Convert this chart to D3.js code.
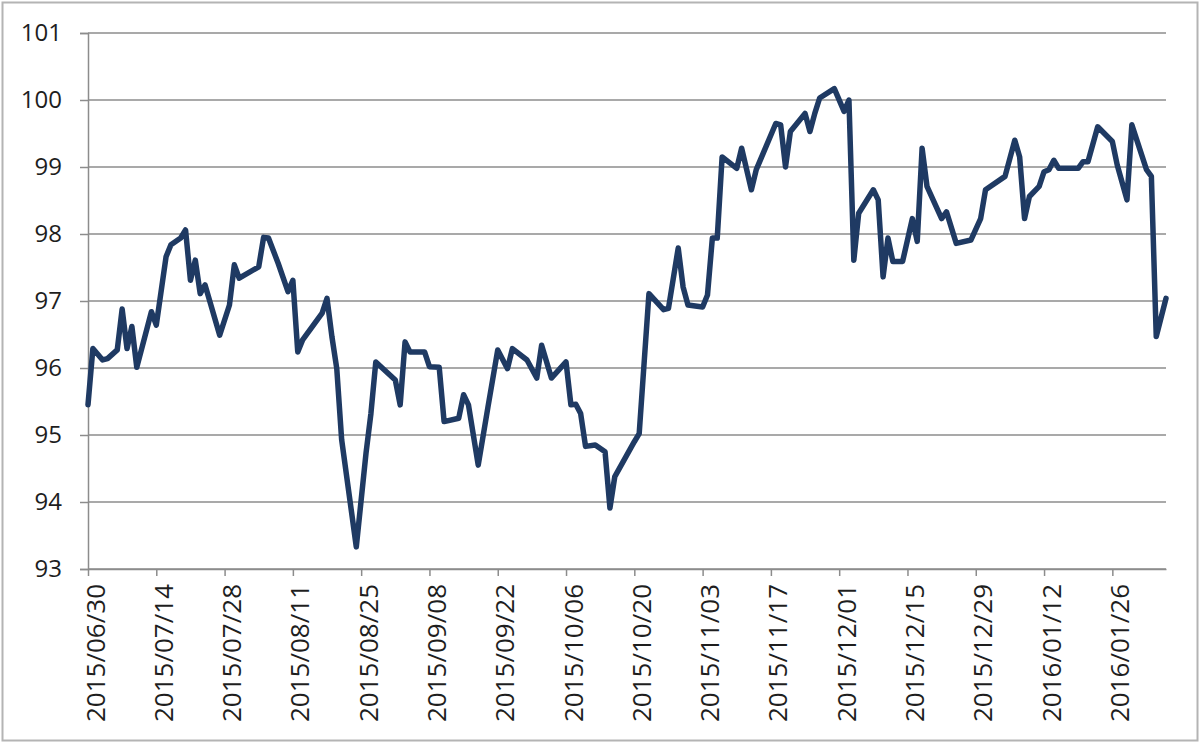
<!DOCTYPE html>
<html>
<head>
<meta charset="utf-8">
<script src="https://cdn.jsdelivr.net/npm/d3@7"></script>
<style>
  body { margin: 0; background: #fff; }
  text { font-family: "Open Sans", sans-serif; fill: #1e1e1e; }
</style>
</head>
<body>
<div id="my_dataviz"></div>
<script>
// data
var dates = ["2015/06/30","2015/07/01","2015/07/03","2015/07/04","2015/07/06","2015/07/07","2015/07/08","2015/07/09","2015/07/10","2015/07/13",
  "2015/07/14","2015/07/16","2015/07/17","2015/07/19","2015/07/20","2015/07/21","2015/07/22","2015/07/23","2015/07/24","2015/07/27",
  "2015/07/29","2015/07/30","2015/07/31","2015/08/04","2015/08/05","2015/08/06","2015/08/08","2015/08/10","2015/08/11","2015/08/12",
  "2015/08/13","2015/08/17","2015/08/18","2015/08/19","2015/08/20","2015/08/21","2015/08/24","2015/08/26","2015/08/27","2015/08/28",
  "2015/09/01","2015/09/02","2015/09/03","2015/09/04","2015/09/07","2015/09/08","2015/09/10","2015/09/11","2015/09/14","2015/09/15",
  "2015/09/16","2015/09/18","2015/09/20","2015/09/22","2015/09/24","2015/09/25","2015/09/28","2015/09/30","2015/10/01","2015/10/03",
  "2015/10/06","2015/10/07","2015/10/08","2015/10/09","2015/10/10","2015/10/12","2015/10/14","2015/10/15","2015/10/16","2015/10/20",
  "2015/10/21","2015/10/23","2015/10/26","2015/10/27","2015/10/29","2015/10/30","2015/10/31","2015/11/03","2015/11/04","2015/11/05",
  "2015/11/06","2015/11/07","2015/11/10","2015/11/11","2015/11/13","2015/11/14","2015/11/18","2015/11/19","2015/11/20","2015/11/21",
  "2015/11/24","2015/11/25","2015/11/26","2015/11/27","2015/11/30","2015/12/02","2015/12/03","2015/12/04","2015/12/05","2015/12/08",
  "2015/12/09","2015/12/10","2015/12/11","2015/12/12","2015/12/14","2015/12/16","2015/12/17","2015/12/18","2015/12/19","2015/12/22",
  "2015/12/23","2015/12/25","2015/12/28","2015/12/30","2015/12/31","2016/01/04","2016/01/06","2016/01/07","2016/01/08","2016/01/09",
  "2016/01/11","2016/01/12","2016/01/13","2016/01/14","2016/01/15","2016/01/19","2016/01/20","2016/01/21","2016/01/23","2016/01/26",
  "2016/01/27","2016/01/29","2016/01/30","2016/02/02","2016/02/03","2016/02/04","2016/02/06"];

var values = [95.45,96.29,96.12,96.14,96.27,96.88,96.29,96.62,96.01,96.84,
  96.64,97.66,97.84,97.94,98.06,97.31,97.61,97.11,97.24,96.49,
  96.94,97.54,97.34,97.51,97.95,97.94,97.56,97.14,97.31,96.24,
  96.42,96.82,97.04,96.47,95.99,94.93,93.33,94.73,95.32,96.09,
  95.82,95.45,96.39,96.24,96.24,96.02,96.01,95.20,95.25,95.60,
  95.45,94.55,95.42,96.27,95.99,96.29,96.12,95.85,96.34,95.85,
  96.09,95.45,95.46,95.32,94.83,94.85,94.75,93.91,94.38,94.90,
  95.02,97.11,96.87,96.89,97.79,97.21,96.94,96.91,97.09,97.94,
  97.94,99.15,98.98,99.28,98.66,98.96,99.65,99.63,99.00,99.53,
  99.80,99.53,99.80,100.03,100.17,99.83,100.00,97.61,98.31,98.66,
  98.51,97.36,97.94,97.59,97.59,98.23,97.89,99.28,98.71,98.23,
  98.33,97.86,97.91,98.23,98.66,98.86,99.40,99.15,98.23,98.56,
  98.71,98.93,98.96,99.10,98.98,98.98,99.08,99.08,99.60,99.38,
  99.03,98.51,99.63,98.96,98.86,96.47,97.04];

var yTicks = [93, 94, 95, 96, 97, 98, 99, 100, 101];
var xTickLabels = ["2015/06/30","2015/07/14","2015/07/28","2015/08/11","2015/08/25","2015/09/08","2015/09/22",
  "2015/10/06","2015/10/20","2015/11/03","2015/11/17","2015/12/01","2015/12/15","2015/12/29","2016/01/12","2016/01/26"];

var parseDate = d3.timeParse("%Y/%m/%d");
var data = dates.map(function (d, i) { return {date: parseDate(d), value: values[i]}; });

var W = 1200, H = 743;
var margin = {top: 33, right: 34, bottom: 174, left: 88},
    width = W - margin.left - margin.right,
    height = H - margin.top - margin.bottom;

var svg0 = d3.select("#my_dataviz")
  .append("svg")
  .attr("width", W)
  .attr("height", H);

// chart area border
svg0.append("rect")
  .attr("x", 2.5).attr("y", 2.5)
  .attr("width", W - 5).attr("height", H - 5)
  .attr("fill", "#fff")
  .attr("stroke", "#b4b4b4")
  .attr("stroke-width", 2);

var svg = svg0.append("g")
  .attr("transform", "translate(" + margin.left + "," + margin.top + ")");

var x = d3.scaleTime()
  .domain([parseDate("2015/06/30"), parseDate("2016/02/06")])
  .range([0, width]);

var y = d3.scaleLinear()
  .domain([93, 101])
  .range([height, 0]);

// horizontal gridlines
svg.append("g")
  .selectAll("line")
  .data(yTicks)
  .enter()
  .append("line")
  .attr("x1", 0).attr("x2", width)
  .attr("y1", function (d) { return y(d); })
  .attr("y2", function (d) { return y(d); })
  .attr("stroke", "#8c8c8c")
  .attr("stroke-width", 1.5);

// Y axis
var yAxis = svg.append("g")
  .call(d3.axisLeft(y).tickValues(yTicks).tickSize(8).tickPadding(18).tickFormat(d3.format("d")));
yAxis.select(".domain").attr("stroke", "#8c8c8c").attr("stroke-width", 1.5);
yAxis.selectAll(".tick line").attr("stroke", "#8c8c8c").attr("stroke-width", 1.5);
yAxis.selectAll("text")
  .style("font-size", "24px")
  .style("font-family", "'Open Sans', sans-serif")
  .attr("fill", "#1e1e1e");

// X axis
var xAxis = svg.append("g")
  .attr("transform", "translate(0," + height + ")")
  .call(d3.axisBottom(x)
    .tickValues(xTickLabels.map(parseDate))
    .tickSize(7)
    .tickSizeOuter(0)
    .tickFormat(d3.timeFormat("%Y/%m/%d")));
xAxis.select(".domain").attr("stroke", "#8c8c8c").attr("stroke-width", 1.5);
xAxis.selectAll(".tick line").attr("stroke", "#8c8c8c").attr("stroke-width", 1.5);
xAxis.selectAll("text")
  .style("font-size", "26px")
  .style("font-family", "'Open Sans', sans-serif")
  .attr("fill", "#1e1e1e")
  .attr("text-anchor", "end")
  .attr("dominant-baseline", "central")
  .attr("transform", "translate(6,15) rotate(-90)")
  .attr("x", 0).attr("y", 0).attr("dy", null);

// the line
svg.append("path")
  .datum(data)
  .attr("d", d3.line()
    .x(function (d) { return x(d.date); })
    .y(function (d) { return y(d.value); }))
  .attr("stroke", "#1f3a63")
  .attr("stroke-width", 5.5)
  .attr("stroke-linejoin", "round")
  .attr("stroke-linecap", "round")
  .attr("fill", "none");
</script>
</body>
</html>
